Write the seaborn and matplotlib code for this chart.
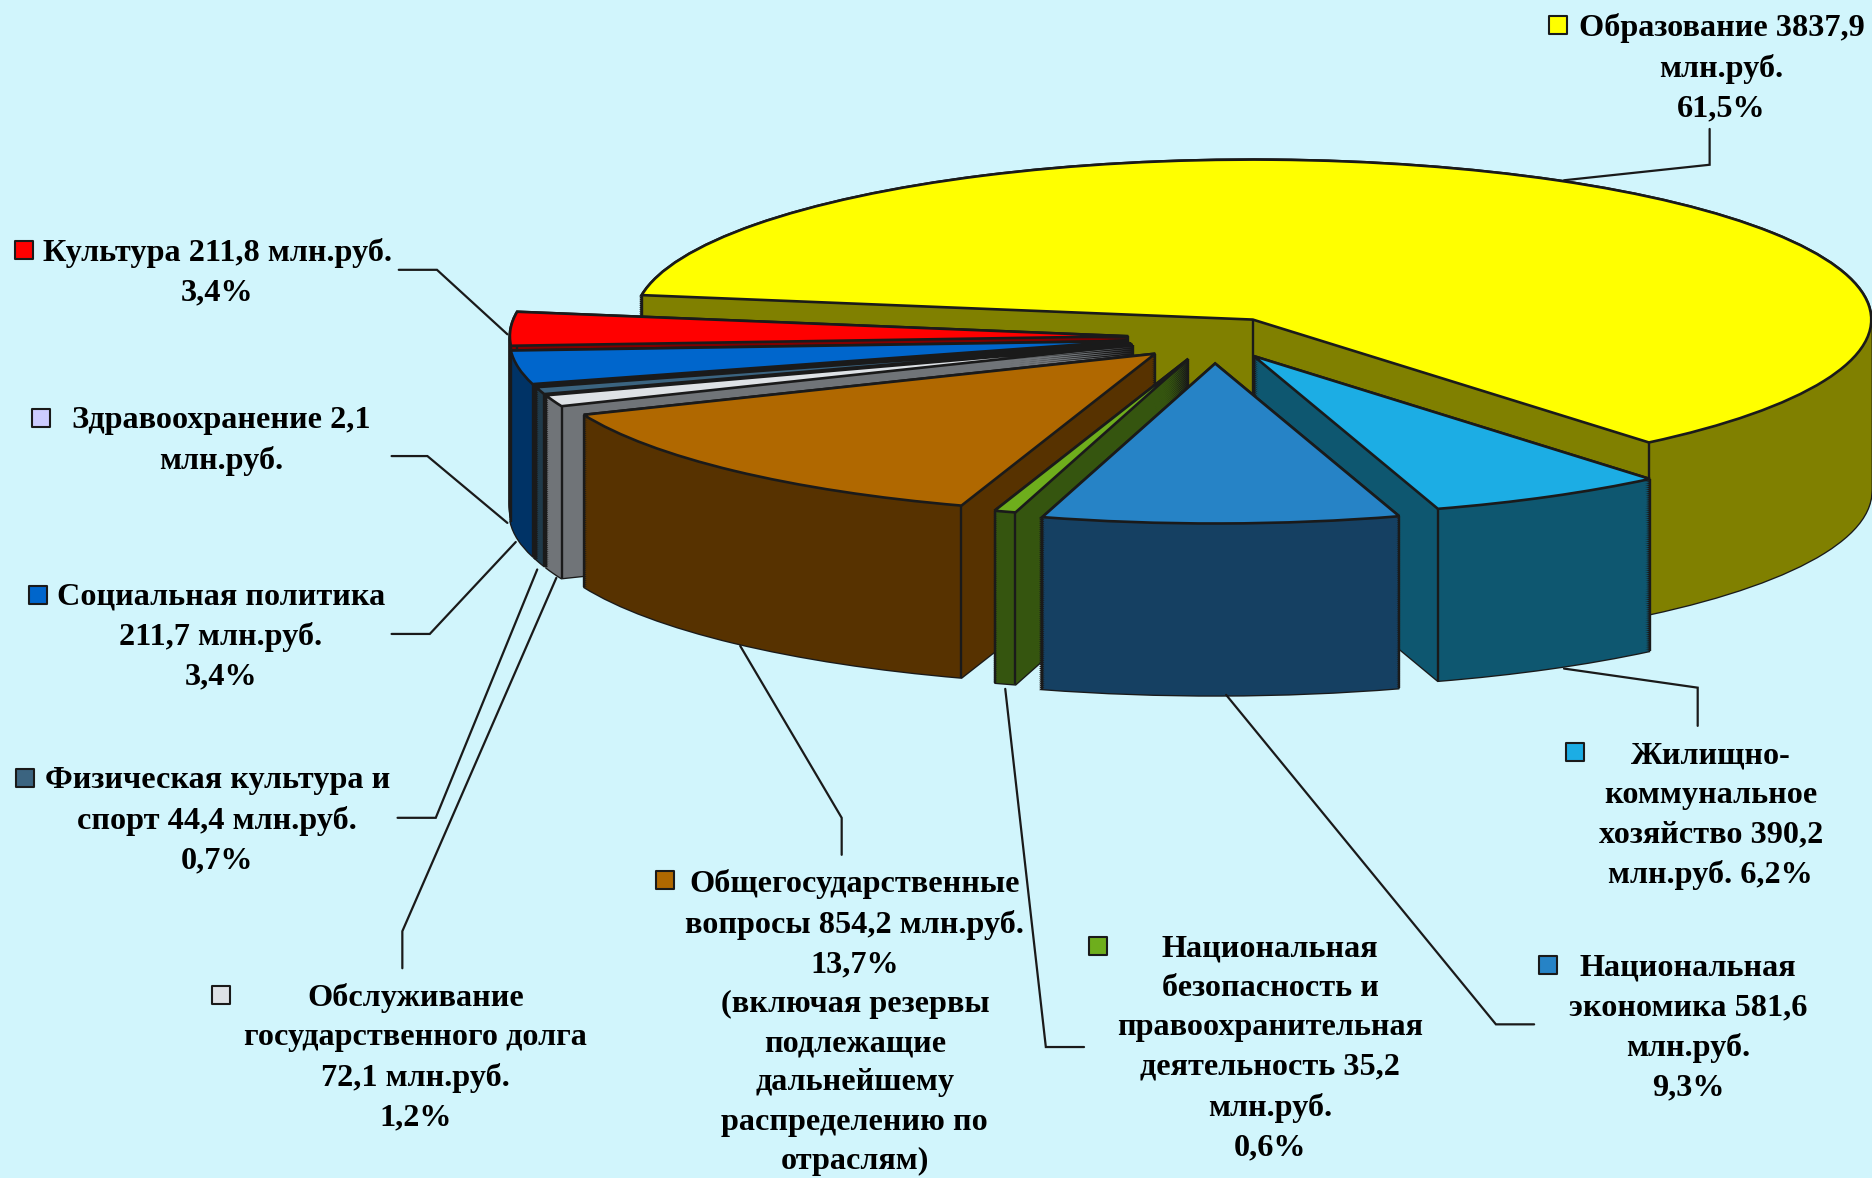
import numpy as np
import matplotlib
matplotlib.use("Agg")
import matplotlib.pyplot as plt
import seaborn as sns

# ---- data ----
sectors = ["Образование", "Жилищно-коммунальное хозяйство", "Национальная экономика",
           "Национальная безопасность", "Общегосударственные вопросы",
           "Обслуживание государственного долга", "Физическая культура и спорт",
           "Здравоохранение", "Социальная политика", "Культура"]
values = [3837.9, 390.2, 581.6, 35.2, 854.2, 72.1, 44.4, 2.1, 211.7, 211.8]
explode = [0.127, 0.134, 0.164, 0.141, 0.14, 0.14, 0.14, 0.14, 0.141, 0.139]

top_colors = ["#FFFF00", "#1CADE4", "#2683C6", "#6EAE1C", "#B06800",
              "#DEE2E6", "#3B6480", "#CCCCFF", "#0066CC", "#FF0000"]
wall_colors = ["#808000", "#0E5770", "#154062", "#35550F", "#573200",
               "#707478", "#1F3A4A", "#666680", "#003366", "#800000"]
# back-to-front painting rank of each sector
paint_rank = [0, 8, 9, 7, 6, 5, 4, 3, 2, 1]

label_texts = [
    "Образование 3837,9\nмлн.руб.\n61,5%",
    "Жилищно-\nкоммунальное\nхозяйство 390,2\nмлн.руб. 6,2%",
    "Национальная\nэкономика 581,6\nмлн.руб.\n9,3%",
    "Национальная\nбезопасность и\nправоохранительная\nдеятельность 35,2\nмлн.руб.\n0,6%",
    "Общегосударственные\nвопросы 854,2 млн.руб.\n13,7%\n(включая резервы\nподлежащие\nдальнейшему\nраспределению по\nотраслям)",
    "Обслуживание\nгосударственного долга\n72,1 млн.руб.\n1,2%",
    "Физическая культура и\nспорт 44,4 млн.руб.\n0,7%",
    "Здравоохранение 2,1\nмлн.руб.",
    "Социальная политика\n211,7 млн.руб.\n3,4%",
    "Культура 211,8 млн.руб.\n3,4%",
]

# ---- layout, in pixels of the 1568-wide view ----
S = 1872 / 1568
W, H = 1872, 1178
BG = "#D1F5FC"
label_xy = [(1442, 22), (1433, 632), (1414, 810), (1064, 794), (716, 739),
            (348, 834), (182, 653), (185, 351), (185, 499), (182, 210)]
key_xy = [(1305, 21), (1319, 630), (1297, 808), (920, 792), (557, 737),
          (185, 833), (21, 652), (34, 350), (32, 498), (20, 209)]
leaders = [
    [(1432, 108), (1432, 138), (1310, 151)],
    [(1422, 608), (1422, 576), (1310, 560)],
    [(1285, 858), (1253, 858), (1027, 582)],
    [(908, 877), (876, 877), (842, 577)],
    [(705, 716), (705, 685), (620, 541)],
    [(337, 811), (337, 780), (466, 484)],
    [(333, 685), (365, 685), (450, 477)],
    [(328, 531), (360, 531), (432, 454)],
    [(328, 382), (358, 382), (425, 438)],
    [(334, 226), (366, 226), (425, 280)],
]
CX, CY, RX, RY = 1017 * S, 282.5 * S, 518 * S, 134 * S
DEPTH = 144 * S / RY
LAYERS = 90
START = 171.2

sns.set_theme(style="white")
plt.rcParams["font.family"] = ["Liberation Serif", "DejaVu Serif"]
palette_top = sns.color_palette(top_colors)
palette_wall = sns.color_palette(wall_colors)

fig = plt.figure(figsize=(W / 100, H / 100), dpi=100, facecolor=BG)
ax = fig.add_axes([0, 0, 1, 1], facecolor=BG)
common = dict(x=values, explode=explode, startangle=START, counterclock=False, radius=1.0)

# black silhouette stack, wall fill stack
for k in np.linspace(1, 0, LAYERS):
    outline, _ = ax.pie(colors=["k"] * len(values), center=(0, -k * DEPTH),
                        wedgeprops=dict(edgecolor="k", linewidth=1.9), **common)
    fill, _ = ax.pie(colors=palette_wall, center=(0, -k * DEPTH),
                     wedgeprops=dict(edgecolor="none", linewidth=0), **common)
    for i in range(len(values)):
        outline[i].set_zorder(10 * paint_rank[i] + 1 + (1 - k))
        fill[i].set_zorder(10 * paint_rank[i] + 3 + (1 - k))

# top faces
tops, _ = ax.pie(colors=palette_top, center=(0, 0),
                 wedgeprops=dict(edgecolor="k", linewidth=1.9), **common)
for i, w in enumerate(tops):
    z = 10 * paint_rank[i]
    w.set_zorder(z + 7)
    cx, cy = w.center
    ends = [(cx + np.cos(np.radians(t)), cy + np.sin(np.radians(t))) for t in (w.theta1, w.theta2)]
    if not (w.theta1 % 360 < 270 < (w.theta1 % 360) + (w.theta2 - w.theta1)):
        ends.append((cx, cy))
    for ex, ey in ends:  # vertical wall edges
        ax.plot([ex, ex], [ey, ey - DEPTH], color="k", lw=1.7, zorder=z + 5,
                solid_capstyle="butt")

ax.set_aspect("auto")
ax.set_xlim(-CX / RX, (W - CX) / RX)
ax.set_ylim((CY - H) / RY, CY / RY)
ax.set_axis_off()

# overlay in pixel coordinates for labels, keys and leader lines
ov = fig.add_axes([0, 0, 1, 1], facecolor="none")
ov.set_xlim(0, W)
ov.set_ylim(H, 0)
ov.set_axis_off()
for i, txt in enumerate(label_texts):
    x, y = label_xy[i]
    ov.text(x * S, (y - 11) * S, txt, ha="center", va="top", multialignment="center",
            fontsize=23.2, fontweight="bold", color="#000000", linespacing=1.47)
    kx, ky = key_xy[i]
    ov.scatter([kx * S], [ky * S], marker="s", s=165, color=palette_top[i],
               edgecolor="k", linewidth=1.5, zorder=5)
    pts = np.array(leaders[i]) * S
    ov.plot(pts[:, 0], pts[:, 1], color="k", lw=1.6, solid_joinstyle="miter", zorder=4)

fig.savefig("out.png", dpi=100, facecolor=BG)
